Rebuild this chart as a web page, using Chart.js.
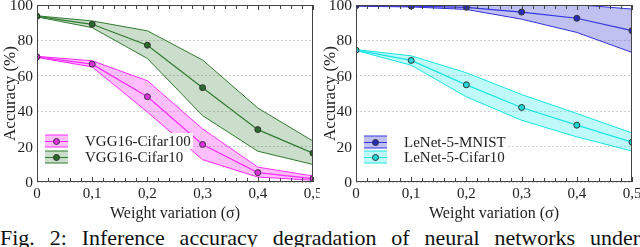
<!DOCTYPE html>
<html lang="en">
<head>
    <meta charset="UTF-8">
    <title>Accuracy vs weight variation</title>
    <script src="https://cdn.jsdelivr.net/npm/chart.js"></script>
    <style>
        body {
            margin: 0;
            width: 640px;
            height: 247px;
            overflow: hidden;
            background: #fff;
            font-family: "Liberation Serif", "DejaVu Serif", serif;
        }
        .panel {
            position: absolute;
            top: 0;
            width: 320px;
            height: 225px;
        }
        #caption {
            position: absolute;
            left: 0;
            top: 227px;
            width: 640px;
            font-family: "Liberation Serif", serif;
            font-size: 22px;
            line-height: 22px;
            color: #111;
            text-align: justify;
            text-align-last: justify;
            white-space: nowrap;
        }
    </style>
</head>
<body>

    <div class="panel" style="left:0px"><canvas id="vggChart"></canvas></div>
    <div class="panel" style="left:320px"><canvas id="lenetChart"></canvas></div>
    <div id="caption">Fig. 2: Inference accuracy degradation of neural networks under</div>

    <script>
        // weight variation sigma
        const sigma = [0, 0.1, 0.2, 0.3, 0.4, 0.5];

        // left panel: VGG16
        const vggC100Mean = [70.7, 66.6, 48.2, 21.2, 5.3, 1.9];
        const vggC100Hi   = [71.0, 68.5, 57.2, 30.0, 8.4, 3.4];
        const vggC100Lo   = [70.4, 65.0, 39.5, 12.6, 2.8, 1.0];

        const vggC10Mean = [93.6, 89.1, 77.3, 53.3, 29.6, 16.3];
        const vggC10Hi   = [93.9, 91.0, 85.4, 68.9, 41.8, 23.1];
        const vggC10Lo   = [93.3, 87.2, 69.8, 37.5, 17.4, 9.9];

        // right panel: LeNet-5
        const mnistMean = [99.6, 99.4, 98.7, 96.0, 92.5, 85.5];
        const mnistHi   = [99.9, 100, 100.2, 100.4, 100.2, 97.7];
        const mnistLo   = [99.3, 98.9, 97.5, 92.0, 84.5, 73.2];

        const lenetC10Mean = [74.5, 68.7, 54.9, 42.1, 32.1, 22.5];
        const lenetC10Hi   = [74.8, 71.3, 61.7, 49.4, 38.7, 27.7];
        const lenetC10Lo   = [74.3, 66.0, 48.1, 34.9, 25.5, 17.5];

        const yTicks = [0, 20, 40, 60, 80, 100];

        const FONT = "'Liberation Serif', 'DejaVu Serif', serif";
        const INK = '#222';

        function pts(values) {
            return sigma.map((s, i) => ({ x: s, y: values[i] }));
        }

        function bandDatasets(label, mean, hi, lo, line, fill, marker) {
            return [
                { label: label + ' hi', data: pts(hi), borderColor: line, borderWidth: 1,
                  pointRadius: 0, fill: '+1', backgroundColor: fill, order: 1 },
                { label: label + ' lo', data: pts(lo), borderColor: line, borderWidth: 1,
                  pointRadius: 0, fill: false, order: 1 },
                { label: label, data: pts(mean), borderColor: line, borderWidth: 1.2,
                  pointRadius: 3, pointBackgroundColor: marker, pointBorderColor: '#333',
                  pointBorderWidth: 1, fill: false, order: 0 }
            ];
        }

        // box around plot + little inward ticks on top/bottom
        const framePlugin = {
            id: 'frame',
            afterDatasetsDraw(chart) {
                const { ctx, chartArea: a, scales } = chart;
                ctx.save();
                ctx.strokeStyle = '#444';
                ctx.lineWidth = 1;
                ctx.strokeRect(a.left + 0.5, a.top + 0.5, a.right - a.left - 1, a.bottom - a.top - 1);
                ctx.beginPath();
                for (let i = 0; i <= 25; i++) {
                    const x = Math.round(scales.x.getPixelForValue(i * 0.02)) + 0.5;
                    const len = i % 5 === 0 ? 5 : 4;
                    ctx.moveTo(x, a.bottom);
                    ctx.lineTo(x, a.bottom - len);
                    ctx.moveTo(x, a.top);
                    ctx.lineTo(x, a.top + len);
                }
                ctx.stroke();
                ctx.restore();
            }
        };

        // legend inside the plot with band swatches
        const bandLegend = {
            id: 'bandLegend',
            afterDraw(chart, args, opts) {
                const { ctx, chartArea: a } = chart;
                ctx.save();
                ctx.font = '15px ' + FONT;
                ctx.textBaseline = 'middle';
                opts.items.forEach((it, k) => {
                    const y = opts.rows[k];
                    const sx = a.left + 8;
                    const tx = a.left + 48;
                    const tw = ctx.measureText(it.label).width;
                    ctx.fillStyle = '#fff';
                    ctx.fillRect(a.left + 1, y - 8, tx + tw + 2 - (a.left + 1), 16);
                    ctx.fillStyle = it.fill;
                    ctx.fillRect(sx, y - 6, 23, 12);
                    ctx.strokeStyle = it.line;
                    ctx.lineWidth = 1;
                    ctx.beginPath();
                    ctx.moveTo(sx, y - 6); ctx.lineTo(sx + 23, y - 6);
                    ctx.moveTo(sx, y + 0.5); ctx.lineTo(sx + 23, y + 0.5);
                    ctx.moveTo(sx, y + 6); ctx.lineTo(sx + 23, y + 6);
                    ctx.stroke();
                    ctx.beginPath();
                    ctx.arc(sx + 11.5, y + 0.5, 3, 0, Math.PI * 2);
                    ctx.fillStyle = it.marker;
                    ctx.fill();
                    ctx.strokeStyle = '#333';
                    ctx.stroke();
                    ctx.fillStyle = INK;
                    ctx.fillText(it.label, tx, y + 1);
                });
                ctx.restore();
            }
        };

        function makeChart(id, datasets, legend, pad, yWidth) {
            return new Chart(document.getElementById(id), {
                type: 'line',
                data: { datasets: datasets },
                plugins: [framePlugin, bandLegend],
                options: {
                    responsive: true,
                    maintainAspectRatio: false,
                    animation: false,
                    layout: { padding: pad },
                    elements: { line: { tension: 0 } },
                    plugins: {
                        legend: { display: false },
                        tooltip: { enabled: false },
                        bandLegend: legend
                    },
                    scales: {
                        x: {
                            type: 'linear',
                            min: 0,
                            max: 0.5,
                            afterFit: s => {
                                s.height = 43;
                                s.paddingLeft = 0;
                                s.paddingRight = 0;
                            },
                            grid: { display: false, drawTicks: false },
                            border: { display: false },
                            ticks: {
                                stepSize: 0.1,
                                padding: 3,
                                color: INK,
                                font: { family: FONT, size: 15 },
                                callback: v => v === 0 ? '0' : v.toFixed(1).replace('.', ',')
                            },
                            title: {
                                display: true,
                                text: 'Weight variation (σ)',
                                color: INK,
                                font: { family: FONT, size: 16 },
                                padding: { top: 0, bottom: 2 }
                            }
                        },
                        y: {
                            min: 0,
                            max: 100,
                            afterFit: s => {
                                s.width = yWidth;
                                s.paddingTop = 0;
                                s.paddingBottom = 0;
                            },
                            grid: { color: '#cfcfcf', lineWidth: 1, drawTicks: false },
                            border: { display: false, dash: [2, 2] },
                            ticks: {
                                stepSize: 10,
                                padding: 4,
                                labelOffset: 1,
                                color: INK,
                                font: { family: FONT, size: 15.5 },
                                callback: v => yTicks.includes(v) ? String(v) : ''
                            },
                            title: {
                                display: true,
                                text: 'Accuracy (%)',
                                color: INK,
                                font: { family: FONT, size: 17 },
                                padding: 0
                            }
                        }
                    }
                }
            });
        }

        makeChart('vggChart',
            bandDatasets('VGG16-Cifar100', vggC100Mean, vggC100Hi, vggC100Lo,
                '#ff2cff', 'rgba(255, 0, 255, 0.25)', '#e030e0')
            .concat(bandDatasets('VGG16-Cifar10', vggC10Mean, vggC10Hi, vggC10Lo,
                '#2f7a2f', 'rgba(47, 122, 47, 0.25)', '#2a6a2a')),
            {
                rows: [141, 157],
                items: [
                    { label: 'VGG16-Cifar100', line: '#ff2cff', fill: 'rgba(255, 0, 255, 0.25)', marker: '#e030e0' },
                    { label: 'VGG16-Cifar10', line: '#2f7a2f', fill: 'rgba(47, 122, 47, 0.25)', marker: '#2a6a2a' }
                ]
            },
            { top: 4, right: 7, left: 0, bottom: 0 }, 37);

        makeChart('lenetChart',
            bandDatasets('LeNet-5-MNIST', mnistMean, mnistHi, mnistLo,
                '#3434e0', 'rgba(48, 48, 210, 0.3)', '#2a2ab8')
            .concat(bandDatasets('LeNet-5-Cifar10', lenetC10Mean, lenetC10Hi, lenetC10Lo,
                '#18e4e4', 'rgba(0, 230, 230, 0.25)', '#20d8d8')),
            {
                rows: [142, 157],
                items: [
                    { label: 'LeNet-5-MNIST', line: '#3434e0', fill: 'rgba(48, 48, 210, 0.3)', marker: '#2a2ab8' },
                    { label: 'LeNet-5-Cifar10', line: '#18e4e4', fill: 'rgba(0, 230, 230, 0.25)', marker: '#20d8d8' }
                ]
            },
            { top: 5, right: 8, left: 0, bottom: 0 }, 36);
    </script>
</body>
</html>
